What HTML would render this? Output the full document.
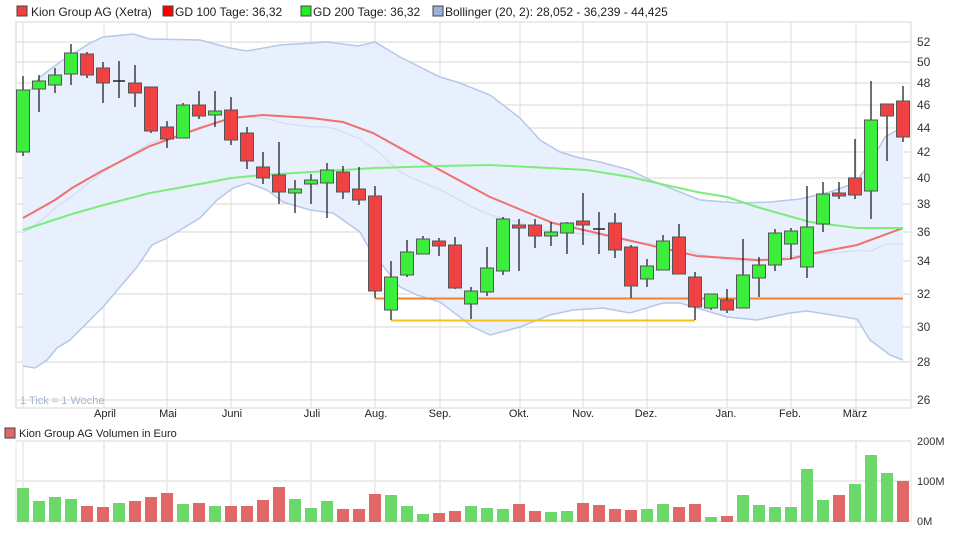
<!DOCTYPE html>
<html><head><meta charset="utf-8"><style>
body{margin:0;background:#fff;width:980px;height:541px;overflow:hidden;font-family:"Liberation Sans",sans-serif}
svg text{font-family:"Liberation Sans",sans-serif}
</style></head><body>
<svg id="c" width="980" height="541" xmlns="http://www.w3.org/2000/svg">
<g id="grid"></g>
<g id="band"></g>
<g id="lines"></g>
<g id="candles"></g>
<g id="vol"></g>
<g font-size="12" fill="#222">
<rect x="17" y="6" width="10" height="10" fill="#f04040" stroke="#444"/><text x="31" y="16">Kion Group AG (Xetra)</text>
<rect x="163" y="6" width="10" height="10" fill="#ff0000" stroke="#444"/><text x="175" y="16">GD 100 Tage: 36,32</text>
<rect x="301" y="6" width="10" height="10" fill="#22ee22" stroke="#444"/><text x="313" y="16">GD 200 Tage: 36,32</text>
<rect x="433" y="6" width="10" height="10" fill="#9bb0e0" stroke="#444"/><text x="445" y="16">Bollinger (20, 2): 28,052 - 36,239 - 44,425</text>
</g>
<g font-size="12" fill="#333">
<text x="917" y="46">52</text><text x="917" y="66">50</text><text x="917" y="87">48</text><text x="917" y="109">46</text><text x="917" y="132">44</text><text x="917" y="156">42</text><text x="917" y="182">40</text><text x="917" y="208">38</text><text x="917" y="236">36</text><text x="917" y="265">34</text><text x="917" y="298">32</text><text x="917" y="331">30</text><text x="917" y="366">28</text><text x="917" y="404">26</text>
</g>
<text x="20" y="404" font-size="11" fill="#a9b6d0">1 Tick = 1 Woche</text>
<g font-size="11" fill="#222" text-anchor="middle">
<text x="105" y="417">April</text><text x="168" y="417">Mai</text><text x="232" y="417">Juni</text><text x="312" y="417">Juli</text><text x="376" y="417">Aug.</text><text x="440" y="417">Sep.</text><text x="519" y="417">Okt.</text><text x="583" y="417">Nov.</text><text x="646" y="417">Dez.</text><text x="726" y="417">Jan.</text><text x="790" y="417">Feb.</text><text x="855" y="417">März</text>
</g>
<rect x="5" y="428" width="10" height="10" fill="#e06868" stroke="#444"/>
<text x="19" y="437" font-size="11" fill="#222">Kion Group AG Volumen in Euro</text>
<g font-size="11" fill="#333"><text x="917" y="445">200M</text><text x="917" y="485">100M</text><text x="917" y="525">0M</text></g>
</svg>
<script>
const NS="http://www.w3.org/2000/svg";
function el(p,t,a){const e=document.createElementNS(NS,t);for(const k in a)e.setAttribute(k,a[k]);document.getElementById(p).appendChild(e);return e;}
// grid
[42,62,83,105,128,152,178,204,232,261,294,327,362,400].forEach(y=>el('grid','line',{x1:16,x2:911,y1:y,y2:y,stroke:'#ebebeb','stroke-width':2}));
[23,104,167,231,311,375,440,520,583,647,727,791,856].forEach(x=>{el('grid','line',{x1:x,x2:x,y1:22,y2:408,stroke:'#dcdcdc','stroke-width':1});el('grid','line',{x1:x,x2:x,y1:441,y2:522,stroke:'#dcdcdc','stroke-width':1});});
el('grid','rect',{x:16,y:22,width:895,height:386,fill:'none',stroke:'#e4e4e4','stroke-width':1.5});
[441,481,521].forEach(y=>el('grid','line',{x1:16,x2:911,y1:y,y2:y,stroke:'#ebebeb','stroke-width':2}));
el('grid','line',{x1:16,x2:16,y1:441,y2:522,stroke:'#e4e4e4'});el('grid','line',{x1:911,x2:911,y1:441,y2:522,stroke:'#e4e4e4'});
// bands
const up=[[23,100],[40,77],[60,62],[90,43],[103,37],[133,34],[150,39],[200,40],[230,48],[247,51],[280,45],[327,42],[358,46],[375,42],[400,57],[440,77],[460,83],[490,95],[520,118],[540,140],[560,152],[580,158],[600,162],[630,170],[650,180],[680,192],[700,200],[740,203],[770,202],[800,199],[830,192],[855,183],[870,163],[885,137],[903,127]];
const lo=[[23,366],[35,368],[47,360],[57,348],[70,340],[103,307],[137,267],[152,245],[167,238],[200,218],[217,200],[233,188],[248,183],[267,190],[283,202],[310,210],[333,213],[360,232],[370,250],[400,287],[417,295],[440,302],[473,327],[490,335],[520,327],[550,315],[573,310],[603,308],[630,313],[663,303],[680,303],[697,308],[727,317],[757,320],[790,313],[807,311],[857,319],[870,340],[890,355],[903,360]];
function interp(arr,x){for(let i=1;i<arr.length;i++){if(x<=arr[i][0]){const a=arr[i-1],b=arr[i];return a[1]+(b[1]-a[1])*(x-a[0])/(b[0]-a[0]);}}return arr[arr.length-1][1];}
const pts=a=>a.map(p=>p.join(',')).join(' ');
el('band','polygon',{points:pts(up)+' '+pts(lo.slice().reverse()),fill:'#e9f0fd'});
el('band','polyline',{points:pts(up),fill:'none',stroke:'#b6c7ea','stroke-width':1.5});
el('band','polyline',{points:pts(lo),fill:'none',stroke:'#b6c7ea','stroke-width':1.5});
const mid=[];for(let x=23;x<=903;x+=8)mid.push([x,(interp(up,x)+interp(lo,x))/2]);
el('band','polyline',{points:pts(mid),fill:'none',stroke:'#d3e0f7','stroke-width':1.5});
const red=[[23,218],[55,200],[72,188],[100,172],[150,146],[167,140],[200,128],[231,118],[263,115],[311,118],[343,122],[373,133],[427,163],[490,197],[553,223],[623,239],[697,256],[757,260],[790,259],[810,254],[857,245],[903,228]];
const grn=[[23,230],[72,214],[100,206],[150,193],[200,184],[231,178],[263,175],[311,172],[375,168],[440,166],[490,165],[587,170],[630,177],[697,192],[727,197],[757,207],[810,222],[857,228],[903,228]];
el('lines','polyline',{points:pts(red),fill:'none',stroke:'#f07070','stroke-width':2});
el('lines','polyline',{points:pts(grn),fill:'none',stroke:'#7aee7a','stroke-width':2});
el('lines','line',{x1:375,x2:903,y1:298.5,y2:298.5,stroke:'#f4822a','stroke-width':2});
el('lines','line',{x1:391,x2:695,y1:320.5,y2:320.5,stroke:'#f7c21a','stroke-width':2});
// candles: color, wickTop, bodyTop, bodyBottom, wickBottom
const C=[['g',76,90,152,156],['g',75,81,89,112],['g',68,75,85,93],['g',44,53,74,85],['r',52,54,75,78],['r',62,68,83,103],['k',61,80,82,98],['r',65,83,93,107],['r',87,87,131,133],['r',121,127,139,148],['g',103,105,138,138],['r',91,105,116,119],['g',91,111,115,127],['r',97,110,140,145],['r',127,133,161,169],['r',152,167,178,184],['r',142,175,192,204],['g',180,189,193,213],['g',174,180,184,204],['g',163,170,183,218],['r',166,172,192,199],['r',167,189,200,205],['r',186,196,291,298],['g',261,277,310,320],['g',240,252,275,277],['g',236,239,254,254],['r',238,241,246,256],['r',237,245,288,289],['g',287,291,304,319],['g',247,268,292,296],['g',217,219,271,275],['r',219,225,228,271],['r',219,225,236,248],['g',222,232,236,246],['g',222,223,233,254],['r',193,221,225,245],['k',212,228,229,254],['r',213,223,250,258],['r',245,247,286,298],['g',259,266,279,287],['g',235,241,270,270],['r',224,237,274,274],['r',272,277,307,320],['g',294,294,308,310],['r',289,300,310,313],['g',239,275,308,308],['g',257,265,278,297],['g',229,233,265,271],['g',228,231,244,259],['g',186,227,267,278],['g',182,194,224,232],['r',182,193,196,199],['r',139,178,195,199],['g',81,120,191,219],['r',104,104,116,161],['r',86,101,137,142]];
C.forEach((c,i)=>{const x=23+16*i;
el('candles','line',{x1:x,x2:x,y1:c[1],y2:c[4],stroke:'#111','stroke-width':1.2});
if(c[0]=='k'){el('candles','line',{x1:x-6,x2:x+6,y1:c[2]+1,y2:c[2]+1,stroke:'#222','stroke-width':1.5});}
else el('candles','rect',{x:x-6.5,y:c[2],width:13,height:Math.max(c[3]-c[2],2),fill:c[0]=='g'?'#3def3d':'#f04242',stroke:'#555','stroke-width':1});
});
// volume
const V=[['g',488],['g',501],['g',497],['g',499],['r',506],['r',507],['g',503],['r',501],['r',497],['r',493],['g',504],['r',503],['g',506],['r',506],['r',506],['r',500],['r',487],['g',499],['g',508],['g',501],['r',509],['r',509],['r',494],['g',495],['g',506],['g',514],['r',513],['r',511],['g',506],['g',508],['g',509],['r',504],['r',511],['g',512],['g',511],['r',503],['r',505],['r',509],['r',510],['g',509],['g',504],['r',507],['r',504],['g',517],['r',516],['g',495],['g',505],['g',507],['g',507],['g',469],['g',500],['r',495],['g',484],['g',455],['g',473],['r',481]];
V.forEach((v,i)=>{const x=23+16*i;el('vol','rect',{x:x-6,y:v[1],width:12,height:522-v[1],fill:v[0]=='g'?'#6dd86a':'#e06868'});});
</script>
</body></html>
